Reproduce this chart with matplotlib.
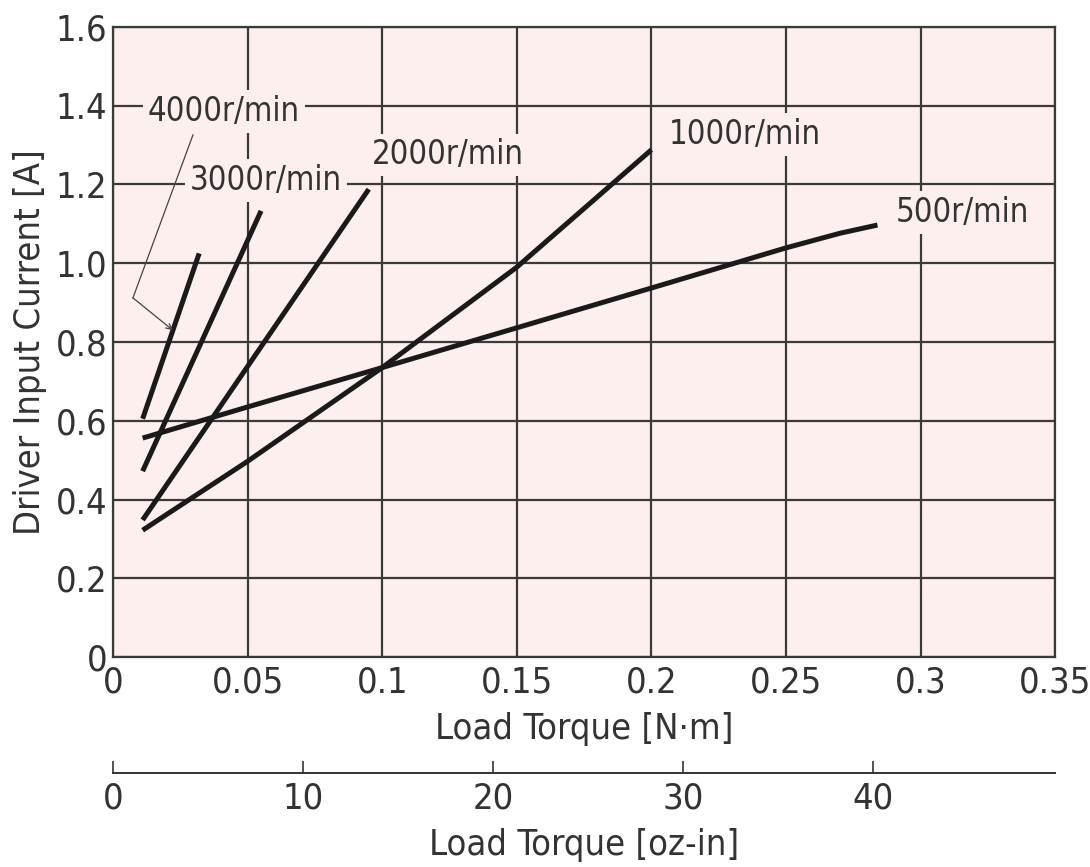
import numpy as np
import matplotlib
matplotlib.use("Agg")
import matplotlib.pyplot as plt

plt.rcParams['font.family'] = ['DejaVu Sans']
plt.rcParams['font.stretch'] = 'condensed'

# load torque [N·m] / driver input current [A] for each speed
x_4000 = [0.011, 0.032]
y_4000 = [0.605, 1.025]
x_3000 = [0.011, 0.055]
y_3000 = [0.472, 1.133]
x_2000 = [0.011, 0.095]
y_2000 = [0.348, 1.188]
x_1000 = [0.011, 0.05, 0.1, 0.15, 0.2]
y_1000 = [0.322, 0.497, 0.735, 0.99, 1.288]
x_500 = [0.011, 0.05, 0.1, 0.15, 0.2, 0.25, 0.27, 0.284]
y_500 = [0.556, 0.635, 0.735, 0.836, 0.937, 1.039, 1.076, 1.097]

speed_labels = ['4000r/min', '3000r/min', '2000r/min', '1000r/min', '500r/min']
label_pos = [(0.013, 1.386), (0.0286, 1.211), (0.0963, 1.275), (0.2065, 1.326), (0.2906, 1.128)]

x_ticks = [0, 0.05, 0.1, 0.15, 0.2, 0.25, 0.3, 0.35]
x_ticklabels = ['0', '0.05', '0.1', '0.15', '0.2', '0.25', '0.3', '0.35']
y_ticks = [0, 0.2, 0.4, 0.6, 0.8, 1.0, 1.2, 1.4, 1.6]
y_ticklabels = ['0', '0.2', '0.4', '0.6', '0.8', '1.0', '1.2', '1.4', '1.6']
oz_ticks = [0, 10, 20, 30, 40]

NM_TO_OZIN = 141.6
bg = '#fcefed'
grid_c = '#3a3a3a'
ink = '#1a1a1a'

fig = plt.figure(figsize=(10.9, 8.67), dpi=100)
ax = fig.add_axes([0.1037, 0.2422, 0.8643, 0.7267])
ax.set_facecolor(bg)

for xs, ys in [(x_4000, y_4000), (x_3000, y_3000), (x_2000, y_2000), (x_1000, y_1000), (x_500, y_500)]:
    ax.plot(xs, ys, color=ink, lw=3.6, solid_capstyle='butt', solid_joinstyle='round', zorder=3)

ax.set_xlim(0, 0.35)
ax.set_ylim(0, 1.6)
ax.set_xticks(x_ticks)
ax.set_xticklabels(x_ticklabels)
ax.set_yticks(y_ticks)
ax.set_yticklabels(y_ticklabels)
ax.tick_params(axis='both', length=0, labelsize=26, colors='#333333')
ax.tick_params(axis='x', pad=6)
ax.tick_params(axis='y', pad=4)
ax.grid(True, color=grid_c, lw=1.6)
ax.set_axisbelow(True)
for s in ax.spines.values():
    s.set_color(grid_c)
    s.set_linewidth(1.6)

# curve labels, boxes hide the grid behind them
for txt, (lx, ly) in zip(speed_labels, label_pos):
    ax.text(lx, ly, txt, fontsize=23.5, color='#333333', ha='left', va='center', zorder=4,
            bbox=dict(boxstyle='square,pad=0.15', fc=bg, ec='none'))

# leader for 4000r/min
ax.plot([0.0297, 0.0074], [1.326, 0.912], color='#444444', lw=0.9, zorder=4)
ax.annotate('', xy=(0.0222, 0.83), xytext=(0.0074, 0.912),
            arrowprops=dict(arrowstyle='->', color='#444444', lw=0.9, shrinkA=0, shrinkB=0), zorder=4)

ax.set_xlabel('Load Torque [N·m]', fontsize=26, color='#333333', labelpad=9)
ax.set_ylabel('Driver Input Current [A]', fontsize=26, color='#333333', labelpad=6)

sec = ax.secondary_xaxis(-0.184, functions=(lambda v: v * NM_TO_OZIN, lambda v: v / NM_TO_OZIN))
sec.set_xticks(oz_ticks)
sec.tick_params(direction='in', length=9, width=1.2, labelsize=26, colors='#333333', pad=6)
sec.spines['bottom'].set_color('#333333')
sec.spines['bottom'].set_linewidth(1.4)
sec.set_xlabel('Load Torque [oz-in]', fontsize=26, color='#333333', labelpad=9)

fig.savefig('out.png', dpi=100, facecolor='white')
